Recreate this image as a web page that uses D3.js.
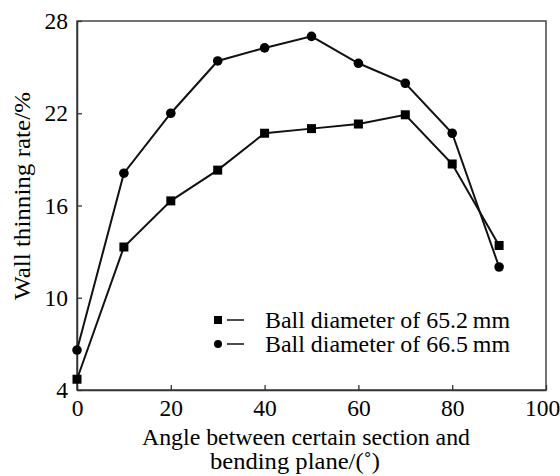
<!DOCTYPE html>
<html>
<head>
<meta charset="utf-8">
<script src="https://cdn.jsdelivr.net/npm/d3@7"></script>
<style>
  body { margin: 0; background: #fff; }
  text { font-family: "Liberation Serif", "DejaVu Serif", serif; fill: #000; }
</style>
</head>
<body>
<svg id="chart" width="560" height="476"></svg>
<script>
// data
const angles = [0, 10, 20, 30, 40, 50, 60, 70, 80, 90];
const ball652 = [4.7, 13.3, 16.3, 18.3, 20.7, 21.0, 21.3, 21.9, 18.7, 13.4];
const ball665 = [6.6, 18.1, 22.0, 25.4, 26.25, 27.0, 25.25, 23.95, 20.7, 12.0];
const xTicks = [0, 20, 40, 60, 80, 100];
const yTicks = [4, 10, 16, 22, 28];
const seriesNames = ["Ball diameter of 65.2\u2009mm", "Ball diameter of 66.5\u2009mm"];

const width = 560, height = 476;
const margin = {left: 77, right: 14, top: 21, bottom: 86};
const fontSize = 23.5;

const svg = d3.select("#chart");

const x = d3.scaleLinear().domain([0, 100]).range([margin.left, width - margin.right]);
const y = d3.scaleLinear().domain([4, 28]).range([height - margin.bottom, margin.top]);

//frame
svg.append("rect")
  .attr("x", x(0)).attr("y", y(28))
  .attr("width", x(100) - x(0)).attr("height", y(4) - y(28))
  .attr("fill", "none").attr("stroke", "#444").attr("stroke-width", 1.5);

//x axis, ticks point inward
const xAxis = svg.append("g")
  .attr("transform", "translate(0," + y(4) + ")")
  .call(d3.axisBottom(x).tickValues(xTicks).tickSizeInner(-5).tickSizeOuter(0).tickPadding(9));
xAxis.select(".domain").attr("stroke", "#333").attr("stroke-width", 1.5);
xAxis.selectAll(".tick line").attr("stroke", "#333").attr("stroke-width", 1.3);
xAxis.selectAll("text").attr("font-size", fontSize).attr("fill", "#000")
  .style("font-family", "Liberation Serif, serif");
//last label sits against the right edge in the source
xAxis.selectAll("text").filter(d => d === 100).attr("dx", -4);

//y axis
const yAxis = svg.append("g")
  .attr("transform", "translate(" + x(0) + ",0)")
  .call(d3.axisLeft(y).tickValues(yTicks).tickSizeInner(-5).tickSizeOuter(0).tickPadding(9));
yAxis.select(".domain").attr("stroke", "#333").attr("stroke-width", 1.5);
yAxis.selectAll(".tick line").attr("stroke", "#333").attr("stroke-width", 1.3);
yAxis.selectAll("text").attr("font-size", fontSize).attr("fill", "#000")
  .style("font-family", "Liberation Serif, serif");

//axis titles (the source figure is a little stretched sideways)
svg.append("text")
  .attr("transform", "translate(30,300) rotate(-90)")
  .attr("font-size", fontSize)
  .attr("textLength", 208)
  .attr("lengthAdjust", "spacingAndGlyphs")
  .text("Wall thinning rate/%");

svg.append("text")
  .attr("x", 142).attr("y", 445)
  .attr("font-size", fontSize)
  .attr("textLength", 328)
  .attr("lengthAdjust", "spacingAndGlyphs")
  .text("Angle between certain section and");
svg.append("text")
  .attr("x", 210).attr("y", 469)
  .attr("font-size", fontSize)
  .attr("textLength", 170)
  .attr("lengthAdjust", "spacingAndGlyphs")
  .text("bending plane/(\u02DA)");

//lines
const line = d3.line()
  .x((d, i) => x(angles[i]))
  .y(d => y(d));

[ball652, ball665].forEach(function(s){
  svg.append("path")
    .datum(s)
    .attr("d", line)
    .attr("fill", "none")
    .attr("stroke", "#111")
    .attr("stroke-width", 2);
});

//markers
svg.selectAll(".sq")
  .data(ball652)
  .enter().append("rect")
  .attr("class", "sq")
  .attr("x", (d, i) => x(angles[i]) - 4.5)
  .attr("y", d => y(d) - 4.5)
  .attr("width", 9).attr("height", 9)
  .attr("fill", "#000");

svg.selectAll(".ci")
  .data(ball665)
  .enter().append("circle")
  .attr("class", "ci")
  .attr("cx", (d, i) => x(angles[i]))
  .attr("cy", d => y(d))
  .attr("r", 4.8)
  .attr("fill", "#000");

//legend
const legend = svg.append("g").attr("transform", "translate(218,320)");
legend.append("rect").attr("x", -4).attr("y", -4).attr("width", 8).attr("height", 8).attr("fill", "#000");
legend.append("circle").attr("cx", 0).attr("cy", 24).attr("r", 4).attr("fill", "#000");
[0, 24].forEach(function(dy, i){
  legend.append("line")
    .attr("x1", 9).attr("x2", 26).attr("y1", dy).attr("y2", dy)
    .attr("stroke", "#111").attr("stroke-width", 1.5);
  legend.append("text")
    .attr("x", 47).attr("y", dy + 8)
    .attr("font-size", fontSize)
    .attr("textLength", 245)
    .attr("lengthAdjust", "spacingAndGlyphs")
    .text(seriesNames[i]);
});
</script>
</body>
</html>
